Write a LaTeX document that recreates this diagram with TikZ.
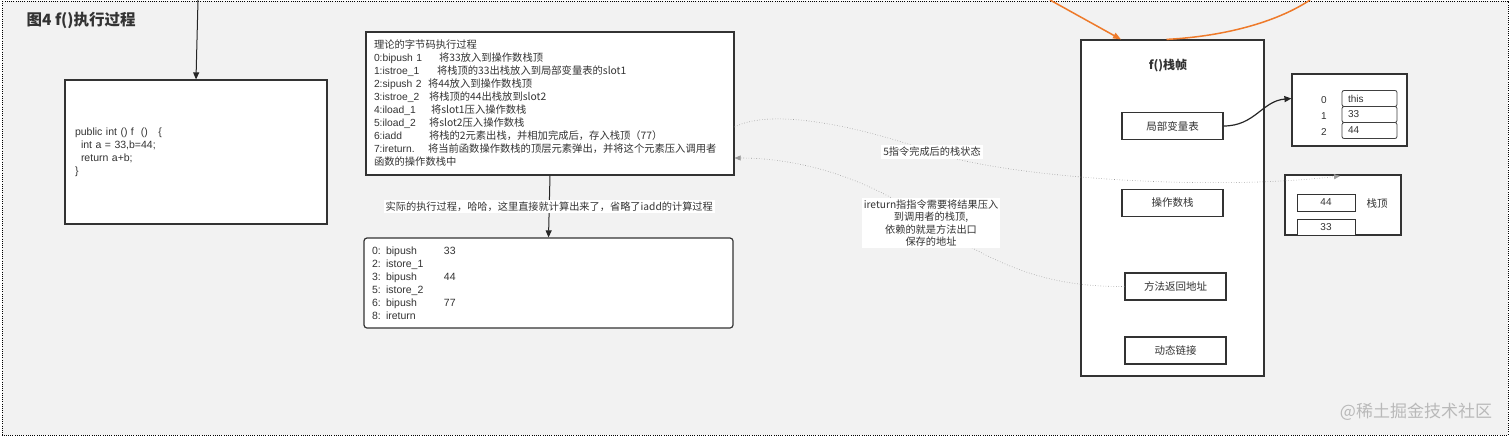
\documentclass[tikz,border=0pt]{standalone}
\usepackage{fontspec}
\setmainfont{Noto Sans CJK SC}
\newfontfamily\latin{Liberation Sans}
\usepackage{tikz}
\usetikzlibrary{arrows.meta,positioning,calc}
\definecolor{bggray}{HTML}{F2F2F2}
\definecolor{txtgray}{HTML}{333333}
\definecolor{linkorange}{HTML}{EE7A2A}
\definecolor{dotgray}{HTML}{9A9A9A}
\newcommand{\insn}[2]{\makebox[#1][l]{\latin #2}}

\begin{document}
\begin{tikzpicture}[x=1pt,y=-1pt,
  every node/.append style={text=txtgray},
  box/.style={draw=black!80, line width=1.2pt, fill=white, inner sep=0pt},
  part/.style={box, minimum width=101pt, minimum height=27pt, font=\fontsize{10.5}{12}\selectfont},
  cell/.style={draw=black!75, line width=0.8pt, fill=white, rounded corners=2pt, minimum width=55pt, minimum height=16pt, text width=43pt, inner xsep=6pt, inner ysep=0pt, align=left, font=\latin\fontsize{10}{10}\selectfont},
  idx/.style={font=\latin\fontsize{10}{10}\selectfont, inner sep=0pt},
  note/.style={fill=white, inner sep=2pt, font=\fontsize{10.2}{12.5}\selectfont, align=center},
  call/.style={-{Triangle[length=7pt,width=6pt]}, line width=1pt, draw=black!85},
  trace/.style={dotted, draw=dotgray, line width=0.6pt},
  ]
\useasboundingbox (0,0) rectangle (1512,437);
\fill[white] (0,0) rectangle (1512,437);
\draw[dash pattern=on 1pt off 1.2pt, line width=1pt, fill=bggray] (2,1) rectangle (1508,435);

\node[anchor=west, font=\fontsize{15.5}{18}\selectfont\bfseries] (title) at (23,20) {图4 f()执行过程};

\node[box, minimum width=262pt, minimum height=144pt, text width=242pt, align=left, font=\latin\fontsize{10.5}{13}\selectfont] (code) at (196,152)
  {public int () f~~()~~~\{\\ \hspace*{6pt}int a = 33,b=44;\\ \hspace*{6pt}return a+b;\\ \}};
\coordinate (srcA) at (198,0);
\draw[call] (srcA) -- (code.north);

\node[box, minimum width=368pt, minimum height=143pt, text width=352pt, align=left, font=\fontsize{10.3}{13}\selectfont] (theory) at (550,103.5)
  {理论的字节码执行过程\\
   \insn{65pt}{0:bipush 1}将33放入到操作数栈顶\\
   \insn{63pt}{1:istroe\_1}将栈顶的33出栈放入到局部变量表的slot1\\
   \insn{54pt}{2:sipush 2}将44放入到操作数栈顶\\
   \insn{55pt}{3:istroe\_2}将栈顶的44出栈放到slot2\\
   \insn{57pt}{4:iload\_1}将slot1压入操作数栈\\
   \insn{55pt}{5:iload\_2}将slot2压入操作数栈\\
   \insn{55pt}{6:iadd}将栈的2元素出栈，并相加完成后，存入栈顶（77）\\
   \insn{54pt}{7:ireturn.}将当前函数操作数栈的顶层元素弹出，并将这个元素压入调用者\\
   函数的操作数栈中};

\node[box, rounded corners=3pt, minimum width=369pt, minimum height=90pt, text width=353pt, align=left, font=\latin\fontsize{10.5}{13}\selectfont] (actual) at (548.5,283)
  {\insn{72pt}{0: bipush}33\\
   2: istore\_1\\
   \insn{72pt}{3: bipush}44\\
   5: istore\_2\\
   \insn{72pt}{6: bipush}77\\
   8: ireturn};
\draw[call] (theory.south) -- node[note] (actnote) {实际的执行过程，哈哈，这里直接就计算出来了，省略了iadd的计算过程} (actual.north);

\node[box, minimum width=183pt, minimum height=336pt] (frame) at (1172.5,208) {};
\node[font=\fontsize{12}{14}\selectfont\bfseries] (frametitle) at (1168,66) {f()栈帧};
\node[part] (locals) at (1172.5,126) {局部变量表};
\node[part] (opstack) at (1172.5,203) {操作数栈};
\node[part] (retaddr) at (1175.5,286.5) {方法返回地址};
\node[part] (dynlink) at (1175.5,350.5) {动态链接};

\node[box, minimum width=115pt, minimum height=72pt] (vartable) at (1349.5,110) {};
\foreach \v [count=\i from 0] in {this,33,44} {
  \node[cell] (slot\i) at (1369.5,98.5+16*\i) {\v};
  \node[idx] (idx\i) at (1324,100+16*\i) {\i};
}
\draw[call, line width=1.2pt] (locals.east) .. controls (1255,126) and (1262,101) .. (slot0 -| vartable.west);

\node[box, minimum width=116pt, minimum height=60pt] (stackbox) at (1343,205) {};
\node[box, line width=1pt, minimum width=58pt, minimum height=17pt, font=\latin\fontsize{10}{10}\selectfont] (top44) at (1326,202.5) {44};
\node[box, line width=1pt, minimum width=58pt, minimum height=16pt, font=\latin\fontsize{10}{10}\selectfont] (low33) at (1326,227) {33};
\node[font=\fontsize{10.5}{12}\selectfont] (toplabel) at (1377,204) {栈顶};

\draw[trace, -{Triangle[length=6pt,width=5pt]}] ([yshift=-23.5pt]theory.east) .. controls (775,106) and (870,130) .. (932,152)
  node[note] (state5) {5指令完成后的栈状态}
  .. controls (1000,176) and (1200,192) .. (1340,176);
\draw[trace, -{Triangle[length=6pt,width=5pt]}] (retaddr.west) .. controls (1050,287) and (1000,268) .. (931,223)
  node[note] (retnote) {ireturn指指令需要将结果压入\\到调用者的栈顶,\\依赖的就是方法出口\\保存的地址}
  .. controls (870,178) and (800,158) .. ([yshift=-54.5pt]theory.east);

\coordinate (callerA) at (1050,0);
\coordinate (callerB) at (1310,0);
\draw[linkorange, line width=1.5pt, -{Triangle[length=8pt,width=6pt]}] (callerA) -- ([xshift=-51.5pt]frame.north);
\draw[linkorange, line width=1.5pt] ([xshift=-6pt]frame.north) .. controls (1230,36) and (1280,20) .. (callerB);

\node[text=gray!55, font=\fontsize{17}{20}\selectfont] (mark) at (1416,412) {@稀土掘金技术社区};
\end{tikzpicture}
\end{document}
